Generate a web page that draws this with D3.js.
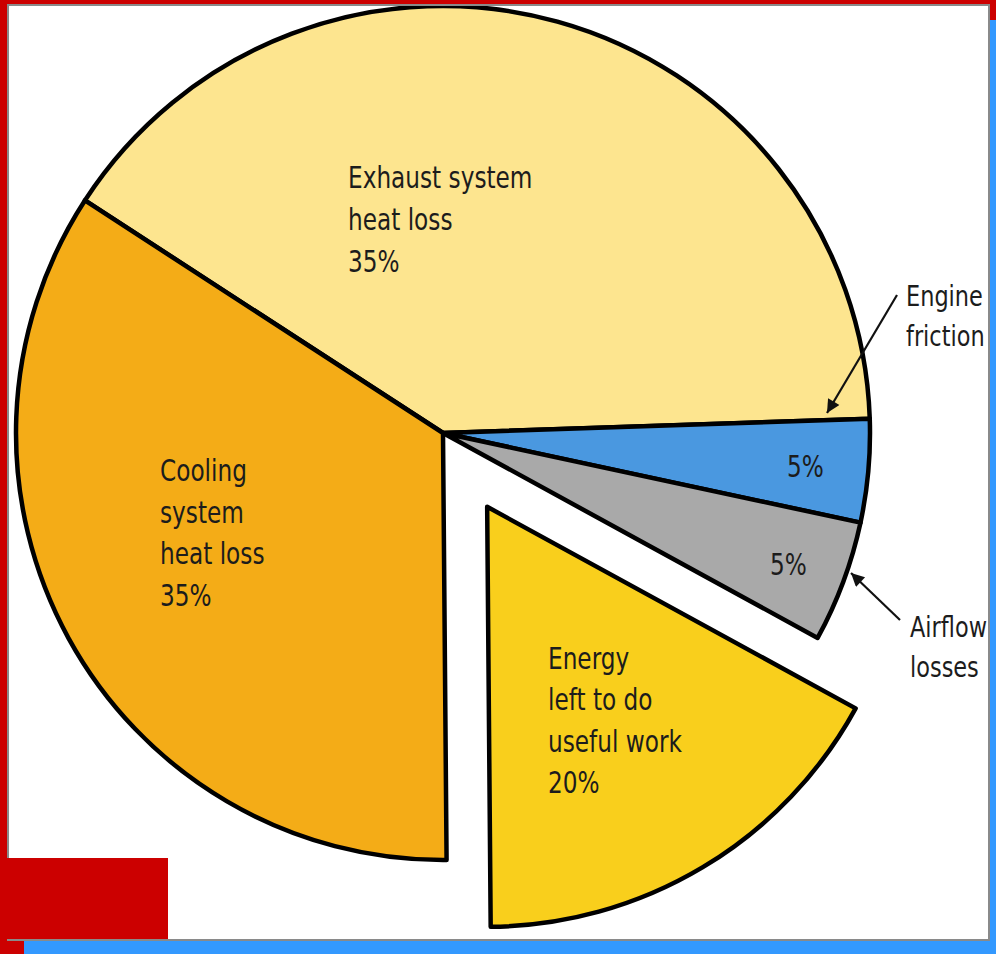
<!DOCTYPE html>
<html><head><meta charset="utf-8">
<script src="https://cdn.jsdelivr.net/npm/d3@7"></script>
<style>html,body{margin:0;padding:0;background:#cc0000}svg{display:block}</style>
</head><body>
<svg id="chart" width="996" height="954"></svg>
<script>
// ---- data ----
const categories = ["Exhaust system heat loss", "Engine friction", "Airflow losses", "Energy left to do useful work", "Cooling system heat loss"];
const percentLabels = ["35%", "5%", "5%", "20%", "35%"];
// share of the circle each slice occupies as drawn in the picture
const drawnShare = [40.3, 3.9, 4.6, 16.9, 34.3];
const insideLines = [
  ["Exhaust system", "heat loss", "35%"],
  ["5%"],
  ["5%"],
  ["Energy", "left to do", "useful work", "20%"],
  ["Cooling", "system", "heat loss", "35%"]
];
const outsideLines = [null, ["Engine", "friction"], ["Airflow", "losses"], null, null];
const explodedIndex = 3;

// ---- styles ----
const palette = ["#fde58f", "#4a98e0", "#a9a9a9", "#f9cf1c", "#f4ac17"];
const FONT = "'DejaVu Sans Condensed','DejaVu Sans','Open Sans',sans-serif";

const svg = d3.select("#chart");
const W = 996, H = 954;

// frame
svg.append("rect").attr("width", W).attr("height", H).attr("fill", "#cc0000");
svg.append("rect").attr("x", 24).attr("y", 20).attr("width", W - 24).attr("height", H - 20).attr("fill", "#3399ff");
svg.append("rect").attr("x", 8).attr("y", 5).attr("width", 981).attr("height", 935)
  .attr("fill", "#ffffff").attr("stroke", "#8a8a8a").attr("stroke-width", 2);
const defs = svg.append("defs");
defs.append("clipPath").attr("id", "panel")
  .append("rect").attr("x", 9).attr("y", 6).attr("width", 979).attr("height", 933);
defs.append("marker").attr("id", "arrow")
  .attr("viewBox", "0 0 10 10").attr("refX", 10).attr("refY", 5)
  .attr("markerWidth", 7.5).attr("markerHeight", 6).attr("orient", "auto")
  .attr("markerUnits", "strokeWidth")
  .append("path").attr("d", "M0,0 L10,5 L0,10 Z").attr("fill", "#111");

const root = svg.append("g").attr("clip-path", "url(#panel)");

const cx = 443, cy = 433, R = 427;
const deg = Math.PI / 180;
const pie = d3.pie().sort(null).value(d => d)
  .startAngle(-57 * deg).endAngle(303 * deg);
const arcs = pie(drawnShare);
const arcGen = d3.arc().innerRadius(0).outerRadius(R);
const arcExploded = d3.arc().innerRadius(0).outerRadius(R - 7);

const g = root.append("g").attr("transform", `translate(${cx},${cy})`);

g.selectAll("path.slice").data(arcs).join("path")
  .attr("class", "slice")
  .attr("d", (d, i) => i === explodedIndex ? arcExploded(d) : arcGen(d))
  .attr("transform", (d, i) => {
    if (i !== explodedIndex) return null;
    const m = (d.startAngle + d.endAngle) / 2, off = 86;
    return `translate(${off * Math.sin(m)},${-off * Math.cos(m)})`;
  })
  .attr("fill", (d, i) => palette[i])
  .attr("stroke", "#000").attr("stroke-width", 4.5).attr("stroke-linejoin", "round");

// label placement (offsets from pie centre, first baseline)
const insidePos = [
  {x: -95, y: -245, lh: 42},
  {x: 344, y: 44, lh: 42},
  {x: 327, y: 142, lh: 42},
  {x: 105, y: 236, lh: 41.5},
  {x: -283, y: 48, lh: 41.7}
];
const outsidePos = [null, {x: 463, y: -127, lh: 40}, {x: 467, y: 204, lh: 40}, null, null];
const textColor = "#1c1c1c";
const squeeze = 0.86;

function addLabel(lines, p, size) {
  const t = g.append("text").attr("font-family", FONT).attr("font-size", size)
    .attr("fill", textColor)
    .attr("transform", `translate(${p.x},${p.y}) scale(${squeeze},1)`);
  lines.forEach((ln, k) => t.append("tspan").attr("x", 0).attr("y", k * p.lh).text(ln));
}
insideLines.forEach((lines, i) => addLabel(lines, insidePos[i], 30));
outsideLines.forEach((lines, i) => { if (lines) addLabel(lines, outsidePos[i], 29); });

// leader arrows (from label toward slice edge)
const arrows = [
  {from: [897 - cx, 295 - cy], to: [827 - cx, 413 - cy]},
  {from: [900 - cx, 620 - cy], to: [851 - cx, 573 - cy]}
];
arrows.forEach(a => {
  g.append("line").attr("x1", a.from[0]).attr("y1", a.from[1])
    .attr("x2", a.to[0]).attr("y2", a.to[1])
    .attr("stroke", "#111").attr("stroke-width", 2.2)
    .attr("marker-end", "url(#arrow)");
});

// red block bottom-left
svg.append("rect").attr("x", 0).attr("y", 858).attr("width", 168).attr("height", 81).attr("fill", "#cc0000");
</script>
</body></html>
